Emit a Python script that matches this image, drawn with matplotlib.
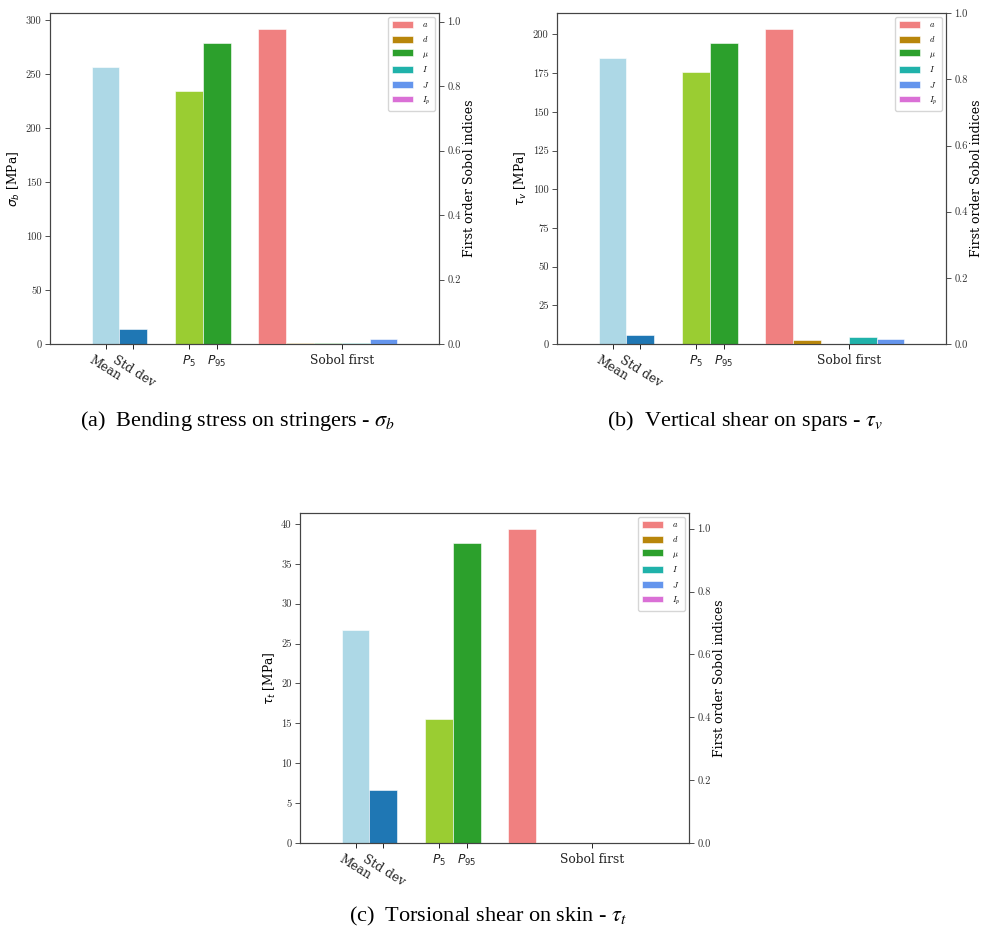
import matplotlib
matplotlib.use("Agg")
import matplotlib.pyplot as plt
from matplotlib.font_manager import FontProperties

# ----- DATA -----
stat_labels = ["Mean", "Std dev", r"$P_5$", r"$P_{95}$"]
sobol_label = "Sobol first"
param_labels = [r"$a$", r"$d$", r"$\mu$", r"$I$", r"$J$", r"$I_p$"]

stat_colors = ["lightblue", "tab:blue", "yellowgreen", "tab:green"]
param_colors = ["lightcoral", "darkgoldenrod", "tab:green", "lightseagreen", "cornflowerblue", "orchid"]

bending_stats = [257, 14, 235, 279]
bending_sobol = [0.978, 0.002, 0.002, 0.002, 0.015, 0.0]

shear_stats = [185, 6, 176, 194.4]
shear_sobol = [0.953, 0.013, 0.001, 0.020, 0.014, 0.0]

torsion_stats = [26.7, 6.7, 15.6, 37.6]
torsion_sobol = [1.0, 0.0, 0.0, 0.0, 0.0, 0.0]

ylabels = [r"$\sigma_b$ [MPa]", r"$\tau_v$ [MPa]", r"$\tau_t$ [MPa]"]
captions = [r"(a)  Bending stress on stringers - $\sigma_b$",
            r"(b)  Vertical shear on spars - $\tau_v$",
            r"(c)  Torsional shear on skin - $\tau_t$"]

# ----- LAYOUT (pixels) -----
W, H = 981, 931
plt.rcParams["font.family"] = "DejaVu Serif"
fig = plt.figure(figsize=(W / 100, H / 100), dpi=100)


def rect(left, top, right, bottom):
    return [left / W, 1 - bottom / H, (right - left) / W, (bottom - top) / H]


tick_font = FontProperties(family="cmr10", size=7.6)
legend_font = FontProperties(family="DejaVu Serif", size=6, math_fontfamily="cm")


def draw_panel(box, stats, sobol, ylabel, caption, cap_xy):
    ax = fig.add_axes(rect(*box))
    stat_x = [0, 1, 3, 4]
    sobol_x = [6, 7, 8, 9, 10, 11]
    ax.bar(stat_x, stats, width=1, color=stat_colors, edgecolor="white", linewidth=0.4)
    ax.set_ylim(0, 1.1 * max(stats))
    ax.set_xlim(-2, 12)
    ax.set_ylabel(ylabel, fontsize=8.8, labelpad=2.5)

    ax2 = ax.twinx()
    for x, v, c, l in zip(sobol_x, sobol, param_colors, param_labels):
        ax2.bar(x, v, width=1, color=c, label=l, edgecolor="white", linewidth=0.4)
    ax2.set_ylabel("First order Sobol indices", fontsize=9, labelpad=1.5)
    ax2.legend(loc="upper right", prop=legend_font, handlelength=2.5, handleheight=0.8,
               labelspacing=0.6, borderpad=0.5, handletextpad=1.1, borderaxespad=0.5)

    ax.set_xticks(stat_x + [8.5])
    labels = ax.set_xticklabels(stat_labels + [sobol_label], fontsize=8.8)
    for t in labels[:2]:
        t.set_rotation(-32)
        t.set_ha("center")
    for a in (ax, ax2):
        for t in a.get_yticklabels():
            t.set_fontproperties(tick_font)
        a.tick_params(length=3.5, width=0.6, pad=2.5, colors="#333333")
        for s in a.spines.values():
            s.set_linewidth(0.8)
            s.set_color("#444444")
    ax.tick_params(axis="x", colors="black", labelcolor="#222222", pad=3.5)

    fig.text(cap_xy[0] / W, 1 - cap_xy[1] / H, caption, ha="center", va="center",
             fontsize=16, family="Liberation Serif", math_fontfamily="stix")


draw_panel((50, 13, 439, 344), bending_stats, bending_sobol, ylabels[0], captions[0], (238, 421))
draw_panel((557, 13, 946, 344), shear_stats, shear_sobol, ylabels[1], captions[1], (745, 421))
draw_panel((300, 513, 689, 843), torsion_stats, torsion_sobol, ylabels[2], captions[2], (488, 916))

fig.savefig("out.png", dpi=100, facecolor="white")
